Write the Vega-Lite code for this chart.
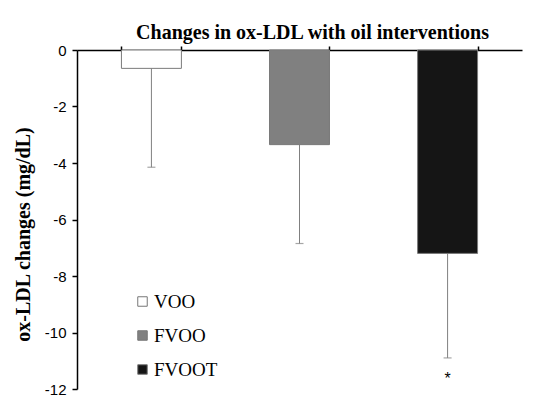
{
  "$schema": "https://vega.github.io/schema/vega-lite/v6.json",
  "autosize": "none",
  "width": 445,
  "height": 339,
  "padding": {"left": 77, "top": 50, "right": 13, "bottom": 10},
  "background": "white",
  "title": {
    "text": "Changes in ox-LDL with oil interventions",
    "font": "Liberation Serif",
    "fontSize": 20,
    "fontWeight": "bold",
    "color": "black",
    "anchor": "middle",
    "offset": 4,
    "dx": 13,
    "dy": 4
  },
  "config": {
    "view": {"stroke": null},
    "legend": {"labelFont": "Liberation Serif", "labelFontSize": 19, "labelColor": "black"}
  },
  "data": {
    "values": [
      {"group": "VOO", "value": -0.65, "lower": -4.15, "star": ""},
      {"group": "FVOO", "value": -3.35, "lower": -6.85, "star": ""},
      {"group": "FVOOT", "value": -7.2, "lower": -10.9, "star": "*"}
    ]
  },
  "encoding": {
    "x": {
      "field": "group",
      "type": "nominal",
      "sort": ["VOO", "FVOO", "FVOOT"],
      "scale": {"paddingInner": 0.595, "paddingOuter": 0.3},
      "axis": {
        "orient": "top",
        "title": null,
        "labels": false,
        "tickBand": "extent",
        "tickSize": 4,
        "tickColor": "black",
        "domainColor": "black",
        "domainWidth": 1.5,
        "tickWidth": 1.5
      }
    }
  },
  "layer": [
    {
      "mark": {"type": "rule", "stroke": "#808080", "strokeWidth": 1},
      "encoding": {
        "y": {"field": "value", "type": "quantitative"},
        "y2": {"field": "lower"}
      }
    },
    {
      "mark": {"type": "tick", "orient": "horizontal", "size": 8, "color": "#808080", "thickness": 1.2},
      "encoding": {
        "y": {"field": "lower", "type": "quantitative"}
      }
    },
    {
      "mark": {"type": "bar", "stroke": "#7a7a7a", "strokeWidth": 1},
      "encoding": {
        "y": {
          "field": "value",
          "type": "quantitative",
          "scale": {"domain": [-12, 0], "nice": false},
          "axis": {
            "title": "ox-LDL changes (mg/dL)",
            "titleFont": "Liberation Serif",
            "titleFontSize": 20,
            "titleFontWeight": "bold",
            "titleColor": "black",
            "titleX": -44,
            "titleY": 184,
            "titleBaseline": "bottom",
            "titleAngle": -90,
            "titleAlign": "center",
            "values": [0, -2, -4, -6, -8, -10, -12],
            "labelExpr": "datum.value == 0 ? '0' : '-' + abs(datum.value)",
            "labelFont": "Liberation Sans",
            "labelFontSize": 15,
            "labelColor": "black",
            "labelPadding": 6,
            "tickSize": 5,
            "tickColor": "black",
            "tickWidth": 1.5,
            "domainColor": "black",
            "domainWidth": 1.5,
            "grid": false
          }
        },
        "y2": {"datum": 0},
        "fill": {
          "field": "group",
          "type": "nominal",
          "sort": ["VOO", "FVOO", "FVOOT"],
          "scale": {"domain": ["VOO", "FVOO", "FVOOT"], "range": ["#ffffff", "#808080", "#151515"]},
          "legend": {
            "title": null,
            "orient": "none",
            "legendX": 56,
            "legendY": 242,
            "symbolType": "square",
            "symbolSize": 90,
            "symbolStrokeColor": "#777777",
            "symbolStrokeWidth": 1,
            "labelFont": "Liberation Serif",
            "labelFontSize": 19,
            "labelColor": "black",
            "labelOffset": 2,
            "rowPadding": 14
          }
        }
      }
    },
    {
      "mark": {"type": "text", "fontSize": 16, "font": "Liberation Sans", "baseline": "middle", "dy": 4},
      "encoding": {
        "y": {"datum": -11.5},
        "text": {"field": "star"}
      }
    }
  ]
}
